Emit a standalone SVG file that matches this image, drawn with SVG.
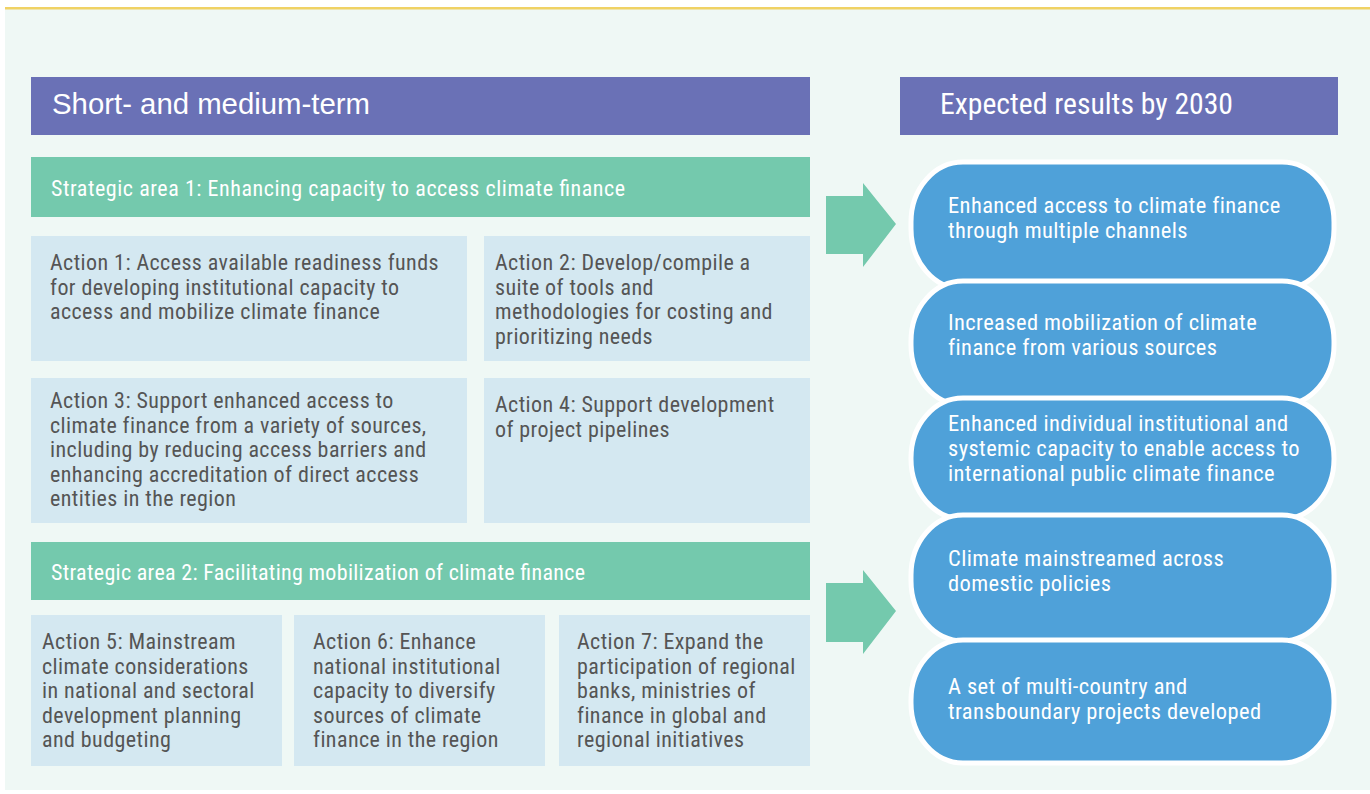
<svg xmlns="http://www.w3.org/2000/svg" width="1370" height="794" viewBox="0 0 1370 794">
<style>
text{font-family:"Liberation Sans Narrow","Roboto Condensed","DejaVu Sans Condensed","Liberation Sans",sans-serif;}
.hdr{fill:#6a71b6}
.hdrl{fill:#fff;font-size:29px;font-family:"Liberation Sans","Noto Sans",sans-serif}
.hdrt{fill:#fff;font-size:29.5px}
.sa{fill:#74c9ad}
.sat{fill:#fff;font-size:22px}
.act{fill:#d4e8f1}
.actt{fill:#555555;font-size:22px;letter-spacing:0.42px}
.pill{fill:#4fa1d9;stroke:#fff;stroke-width:5}
.pillt{fill:#fff;font-size:22.5px;letter-spacing:0.4px}
.arr{fill:#74c9ad}
</style>
<rect x="0" y="0" width="1370" height="794" fill="#ffffff"/>
<rect x="5" y="9" width="1365" height="781" fill="#eff8f5"/>
<rect x="5" y="7" width="1365" height="2.5" fill="#f0d264"/>

<g id="header-left"><rect class="hdr" x="31" y="77" width="779" height="58"/><text class="hdrl" x="52" y="114" textLength="318" lengthAdjust="spacingAndGlyphs">Short- and medium-term</text></g>
<g id="header-right"><rect class="hdr" x="900" y="77" width="438" height="58"/><text class="hdrt" x="940" y="114" textLength="293" lengthAdjust="spacingAndGlyphs">Expected results by 2030</text></g>

<g id="strategic-area-1"><rect class="sa" x="31" y="157" width="779" height="60"/><text class="sat" x="51" y="196" textLength="574" lengthAdjust="spacing">Strategic area 1: Enhancing capacity to access climate finance</text></g>

<g id="action-1"><rect class="act" x="31" y="236" width="436" height="125"/><text class="actt"><tspan x="50" y="270">Action 1: Access available readiness funds</tspan><tspan x="50" y="294.5">for developing institutional capacity to</tspan><tspan x="50" y="319">access and mobilize climate finance</tspan></text></g>
<g id="action-2"><rect class="act" x="484" y="236" width="326" height="125"/><text class="actt"><tspan x="495" y="270">Action 2: Develop/compile a</tspan><tspan x="495" y="294.5">suite of tools and</tspan><tspan x="495" y="319">methodologies for costing and</tspan><tspan x="495" y="343.5">prioritizing needs</tspan></text></g>
<g id="action-3"><rect class="act" x="31" y="378" width="436" height="145"/><text class="actt"><tspan x="50" y="408">Action 3: Support enhanced access to</tspan><tspan x="50" y="432.5">climate finance from a variety of sources,</tspan><tspan x="50" y="457">including by reducing access barriers and</tspan><tspan x="50" y="481.5">enhancing accreditation of direct access</tspan><tspan x="50" y="506">entities in the region</tspan></text></g>
<g id="action-4"><rect class="act" x="484" y="378" width="326" height="145"/><text class="actt"><tspan x="495" y="412">Action 4: Support development</tspan><tspan x="495" y="436.5">of project pipelines</tspan></text></g>

<g id="strategic-area-2"><rect class="sa" x="31" y="542" width="779" height="58"/><text class="sat" x="51" y="580" textLength="534" lengthAdjust="spacing">Strategic area 2: Facilitating mobilization of climate finance</text></g>

<g id="action-5"><rect class="act" x="31" y="615" width="251" height="151"/><text class="actt"><tspan x="42" y="649">Action 5: Mainstream</tspan><tspan x="42" y="673.5">climate considerations</tspan><tspan x="42" y="698">in national and sectoral</tspan><tspan x="42" y="722.5">development planning</tspan><tspan x="42" y="747">and budgeting</tspan></text></g>
<g id="action-6"><rect class="act" x="294" y="615" width="251" height="151"/><text class="actt"><tspan x="313" y="649">Action 6: Enhance</tspan><tspan x="313" y="673.5">national institutional</tspan><tspan x="313" y="698">capacity to diversify</tspan><tspan x="313" y="722.5">sources of climate</tspan><tspan x="313" y="747">finance in the region</tspan></text></g>
<g id="action-7"><rect class="act" x="559" y="615" width="251" height="151"/><text class="actt"><tspan x="577" y="649">Action 7: Expand the</tspan><tspan x="577" y="673.5">participation of regional</tspan><tspan x="577" y="698">banks, ministries of</tspan><tspan x="577" y="722.5">finance in global and</tspan><tspan x="577" y="747">regional initiatives</tspan></text></g>

<g id="connectors">
<polygon class="arr" points="826,196 863,196 863,183 896,224 863,267 863,254 826,254"/>
<polygon class="arr" points="826,583 863,583 863,570 896,611 863,654 863,642 826,642"/>
</g>

<g id="result-1"><rect class="pill" x="911" y="162" width="423" height="127" rx="52" ry="60"/><text class="pillt"><tspan x="948" y="213">Enhanced access to climate finance</tspan><tspan x="948" y="237.5">through multiple channels</tspan></text></g>
<g id="result-2"><rect class="pill" x="911" y="281" width="423" height="124" rx="52" ry="60"/><text class="pillt"><tspan x="948" y="330">Increased mobilization of climate</tspan><tspan x="948" y="355">finance from various sources</tspan></text></g>
<g id="result-3"><rect class="pill" x="911" y="398" width="423" height="121" rx="52" ry="60"/><text class="pillt"><tspan x="948" y="431">Enhanced individual institutional and</tspan><tspan x="948" y="456">systemic capacity to enable access to</tspan><tspan x="948" y="481">international public climate finance</tspan></text></g>
<g id="result-4"><rect class="pill" x="911" y="515" width="423" height="126" rx="52" ry="60"/><text class="pillt"><tspan x="948" y="566">Climate mainstreamed across</tspan><tspan x="948" y="591">domestic policies</tspan></text></g>
<g id="result-5"><rect class="pill" x="911" y="640" width="423" height="123" rx="52" ry="60"/><text class="pillt"><tspan x="948" y="694">A set of multi-country and</tspan><tspan x="948" y="719">transboundary projects developed</tspan></text></g>
</svg>
